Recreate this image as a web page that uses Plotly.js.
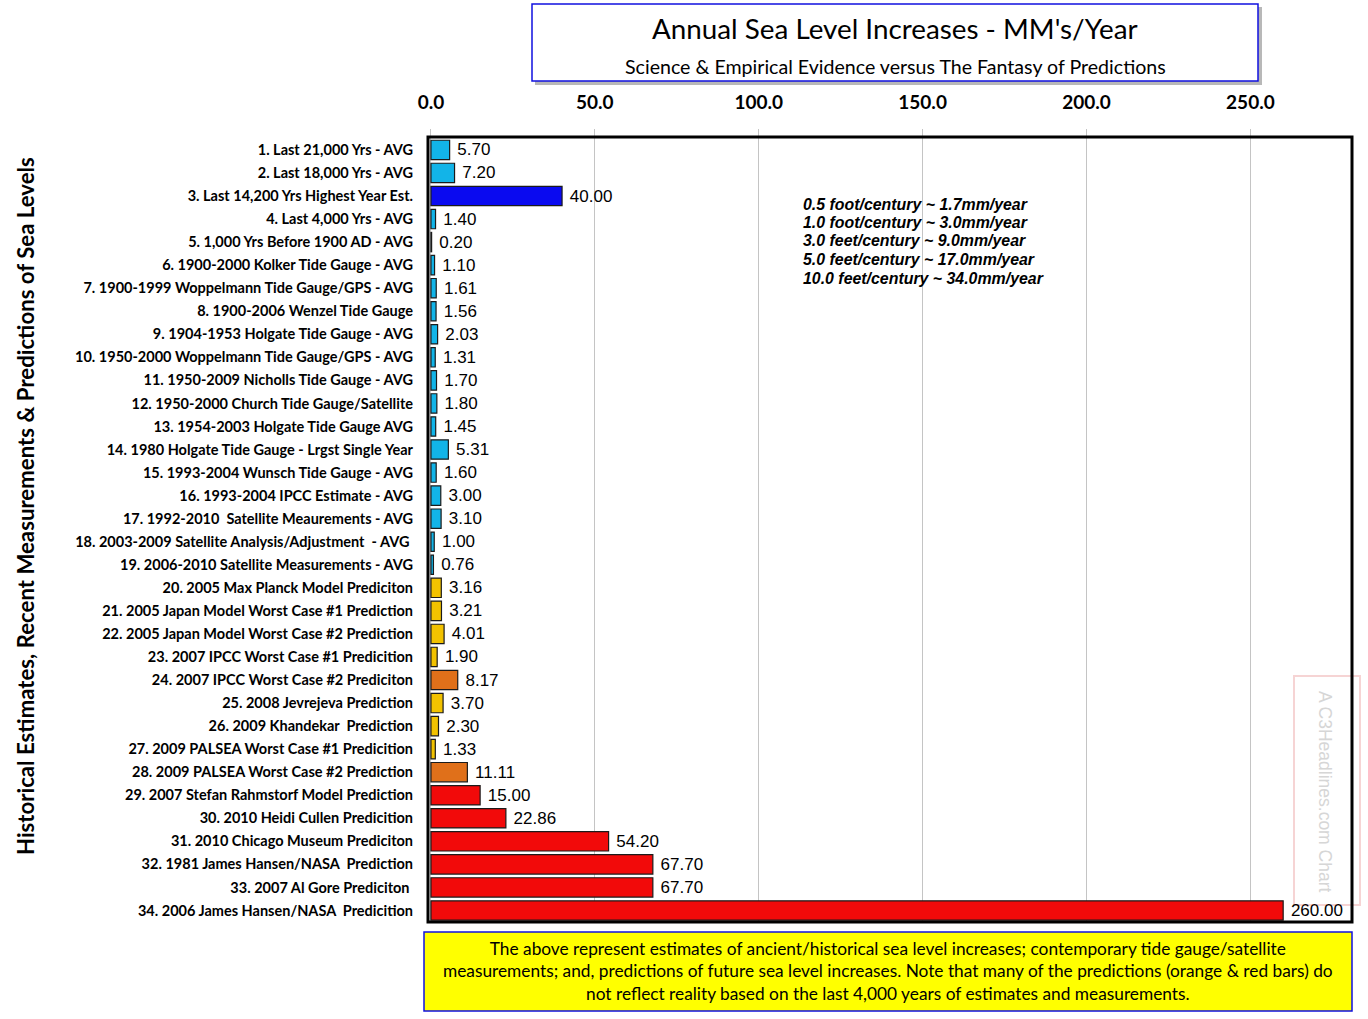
<!DOCTYPE html>
<html>
<head>
<meta charset="utf-8">
<script src="https://cdn.plot.ly/plotly-3.0.1.min.js"></script>
<style>html,body{margin:0;padding:0;background:#fff;}#chart{width:1368px;height:1019px;}</style>
</head>
<body>
<div id="chart"></div>
<script>
var categories = [
  "1. Last 21,000 Yrs - AVG",
  "2. Last 18,000 Yrs - AVG",
  "3. Last 14,200 Yrs Highest Year Est.",
  "4. Last 4,000 Yrs - AVG",
  "5. 1,000 Yrs Before 1900 AD - AVG",
  "6. 1900-2000 Kolker Tide Gauge - AVG",
  "7. 1900-1999 Woppelmann Tide Gauge/GPS - AVG",
  "8. 1900-2006 Wenzel Tide Gauge",
  "9. 1904-1953 Holgate Tide Gauge - AVG",
  "10. 1950-2000 Woppelmann Tide Gauge/GPS - AVG",
  "11. 1950-2009 Nicholls Tide Gauge - AVG",
  "12. 1950-2000 Church Tide Gauge/Satellite",
  "13. 1954-2003 Holgate Tide Gauge AVG",
  "14. 1980 Holgate Tide Gauge - Lrgst Single Year",
  "15. 1993-2004 Wunsch Tide Gauge - AVG",
  "16. 1993-2004 IPCC Estimate - AVG",
  "17. 1992-2010  Satellite Meaurements - AVG",
  "18. 2003-2009 Satellite Analysis/Adjustment  - AVG ",
  "19. 2006-2010 Satellite Measurements - AVG",
  "20. 2005 Max Planck Model Prediciton",
  "21. 2005 Japan Model Worst Case #1 Prediction",
  "22. 2005 Japan Model Worst Case #2 Prediction",
  "23. 2007 IPCC Worst Case #1 Predicition",
  "24. 2007 IPCC Worst Case #2 Prediciton",
  "25. 2008 Jevrejeva Prediction",
  "26. 2009 Khandekar  Prediction",
  "27. 2009 PALSEA Worst Case #1 Predicition",
  "28. 2009 PALSEA Worst Case #2 Prediction",
  "29. 2007 Stefan Rahmstorf Model Prediction",
  "30. 2010 Heidi Cullen Predicition",
  "31. 2010 Chicago Museum Prediciton",
  "32. 1981 James Hansen/NASA  Prediction",
  "33. 2007 Al Gore Prediciton ",
  "34. 2006 James Hansen/NASA  Predicition"
];
var values = [5.70, 7.20, 40.00, 1.40, 0.20, 1.10, 1.61, 1.56, 2.03, 1.31, 1.70, 1.80, 1.45, 5.31, 1.60, 3.00, 3.10, 1.00, 0.76,
  3.16, 3.21, 4.01, 1.90, 8.17, 3.70, 2.30, 1.33, 11.11, 15.00, 22.86, 54.20, 67.70, 67.70, 260.00];
// group of each bar: H = historical/measured, D = deep blue highest est., Y = yellow prediction, O = orange, R = red
var groups = ["H","H","D","H","H","H","H","H","H","H","H","H","H","H","H","H","H","H","H",
  "Y","Y","Y","Y","O","Y","Y","Y","O","R","R","R","R","R","R"];
var groupColors = {H:"#12B4E8", D:"#0A0AF0", Y:"#F2C200", O:"#E0701A", R:"#F20A0A"};
var xTicks = [0, 50, 100, 150, 200, 250];
var xTickText = ["0.0", "50.0", "100.0", "150.0", "200.0", "250.0"];
var titleText = "Annual Sea Level Increases - MM's/Year";
var subtitleText = "Science &amp; Empirical Evidence versus The Fantasy of Predictions";
var yTitle = "Historical Estimates, Recent Measurements &amp; Predictions of Sea Levels";
var noteLines = [
  "0.5 foot/century ~ 1.7mm/year",
  "1.0 foot/century ~ 3.0mm/year",
  "3.0 feet/century ~ 9.0mm/year",
  "5.0 feet/century ~ 17.0mm/year",
  "10.0 feet/century ~ 34.0mm/year"
];
var footerText = "The above represent estimates of ancient/historical sea level increases; contemporary tide gauge/satellite<br>measurements; and, predictions of future sea level increases. Note that many of the predictions (orange &amp; red bars) do<br>not reflect reality based on the last 4,000 years of estimates and measurements.";
var watermark = "A C3Headlines.com Chart";

var colors = groups.map(function(g){ return groupColors[g]; });
var labels = values.map(function(v){ return "\u00a0" + v.toFixed(2); });

var trace = {
  type: "bar",
  orientation: "h",
  y: categories,
  x: values,
  text: labels,
  textposition: "outside",
  cliponaxis: false,
  constraintext: "none",
  textfont: {family: "Liberation Sans, Arial, sans-serif", size: 17, color: "#000"},
  marker: {color: colors, line: {color: "#1b1b1b", width: 1.2}},
  width: 0.84,
  hoverinfo: "x+y"
};

// plot area geometry in pixels for converting to paper coords
var L = 428, R = 1352, T = 137, B = 922;
var W = R - L, H = B - T;
function px(x){ return (x - L) / W; }
function py(y){ return (B - y) / H; }

var annotations = [
  {text: titleText, xref: "paper", yref: "paper", x: px(895), y: py(28), showarrow: false,
   font: {family: "Lato, sans-serif", size: 27.8, color: "#000"}, xanchor: "center", yanchor: "middle"},
  {text: subtitleText, xref: "paper", yref: "paper", x: px(895), y: py(66), showarrow: false,
   font: {family: "Lato, sans-serif", size: 19.6, color: "#000"}, xanchor: "center", yanchor: "middle"},
  {text: "<b>" + yTitle + "</b>", xref: "paper", yref: "paper", x: px(25), y: py(506), showarrow: false,
   textangle: -90, font: {family: "Lato, sans-serif", size: 22.2, color: "#000"}, xanchor: "center", yanchor: "middle"},
  {text: footerText, xref: "paper", yref: "paper", x: px(888), y: py(971), showarrow: false,
   font: {family: "Lato, sans-serif", size: 17.3, color: "#000"}, xanchor: "center", yanchor: "middle", align: "center"},
  {text: watermark, xref: "paper", yref: "paper", x: px(1325), y: py(791), showarrow: false, textangle: 90,
   font: {family: "Liberation Sans, Arial, sans-serif", size: 17.5, color: "#d6d6d6"}, xanchor: "center", yanchor: "middle"}
];
noteLines.forEach(function(t, i){
  annotations.push({text: "<b><i>" + t + "</i></b>", xref: "paper", yref: "paper", x: px(801), y: py(204 + i * 18.5),
    showarrow: false, xanchor: "left", yanchor: "middle",
    font: {family: "Liberation Sans, Arial, sans-serif", size: 15.9, color: "#000"}});
});

var shapes = [
  // title box shadow + box
  {type: "rect", xref: "paper", yref: "paper", x0: px(535), x1: px(1262), y0: py(7), y1: py(85),
   line: {width: 0}, fillcolor: "#b8b8b8", layer: "below"},
  {type: "rect", xref: "paper", yref: "paper", x0: px(532), x1: px(1258), y0: py(4), y1: py(81),
   line: {color: "#1010e0", width: 1.5}, fillcolor: "#ffffff", layer: "below"},
  // footer box
  {type: "rect", xref: "paper", yref: "paper", x0: px(424), x1: px(1352), y0: py(932), y1: py(1011),
   line: {color: "#1010e0", width: 1.5}, fillcolor: "#ffff00", layer: "below"},
  // watermark frame
  {type: "rect", xref: "paper", yref: "paper", x0: px(1294), x1: px(1360), y0: py(676), y1: py(905),
   line: {color: "#f6d4d4", width: 2}, fillcolor: "rgba(0,0,0,0)", layer: "below"},
  // plot frame
  {type: "rect", xref: "paper", yref: "paper", x0: 0, x1: 1, y0: 0, y1: 1,
   line: {color: "#000", width: 3}, fillcolor: "rgba(0,0,0,0)", layer: "above"}
];

var layout = {
  width: 1368, height: 1019,
  margin: {l: L, r: 1368 - R, t: T, b: 1019 - B, pad: 0},
  paper_bgcolor: "#fff", plot_bgcolor: "#fff",
  showlegend: false,
  bargap: 0.16,
  xaxis: {
    side: "top", range: [-0.9, 281], tickvals: xTicks, ticktext: xTickText,
    showgrid: true, gridcolor: "#c4c4c4", gridwidth: 1, zeroline: false,
    ticks: "outside", ticklen: 7, tickcolor: "#c4c4c4", ticklabelstandoff: 12,
    tickfont: {family: "Lato, sans-serif", size: 19, color: "#000", weight: "bold"},
    showline: false, fixedrange: true
  },
  yaxis: {
    type: "category", autorange: false, range: [33.5, -0.56],
    showgrid: false, zeroline: false, showline: false,
    ticks: "", ticklabelstandoff: 14,
    tickfont: {family: "Lato, sans-serif", size: 14.5, color: "#000", weight: "bold"},
    fixedrange: true
  },
  annotations: annotations,
  shapes: shapes
};

Plotly.newPlot("chart", [trace], layout, {displayModeBar: false, staticPlot: true});
</script>
</body>
</html>
